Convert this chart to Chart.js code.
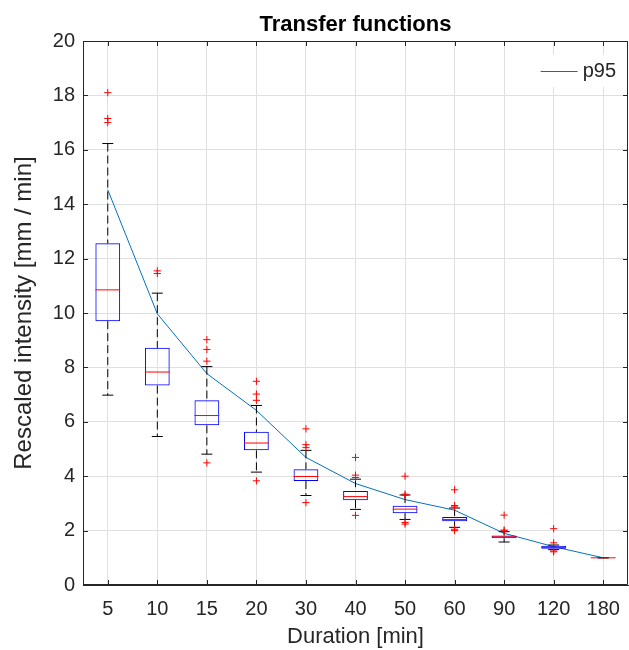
<!DOCTYPE html>
<html>
<head>
<meta charset="utf-8">
<script src="https://cdn.jsdelivr.net/npm/chart.js@4.4.1/dist/chart.umd.min.js"></script>
<style>
  html, body { margin: 0; padding: 0; background: #ffffff; }
  #wrap { width: 629px; height: 650px; position: relative; }
</style>
</head>
<body>
<div id="wrap"><canvas id="c" width="629" height="650"></canvas></div>
<script>
// ---- data ----
const categories = ['5', '10', '15', '20', '30', '40', '50', '60', '90', '120', '180'];
const lowerWhisker = [6.98, 5.46, 4.81, 4.15, 3.29, 2.78, 2.41, 2.12, 1.58, 1.30, 1.00];
const q1           = [9.70, 7.33, 5.87, 4.95, 3.82, 3.12, 2.64, 2.34, 1.72, 1.33, 1.00];
const medians      = [10.85, 7.83, 6.23, 5.22, 3.99, 3.25, 2.79, 2.41, 1.77, 1.38, 1.00];
const q3           = [12.56, 8.72, 6.79, 5.63, 4.26, 3.46, 2.91, 2.50, 1.82, 1.44, 1.00];
const upperWhisker = [16.23, 10.73, 8.03, 6.60, 4.95, 3.89, 3.31, 2.83, 1.96, 1.47, 1.00];
const outliers = [
  [18.10, 17.15, 17.00],
  [11.55, 11.45],
  [9.02, 8.66, 8.23, 4.49],
  [7.49, 7.02, 6.79, 3.83],
  [5.74, 5.16, 5.05, 3.03],
  [4.69, 4.04, 3.95, 2.56],
  [4.00, 3.34, 3.30, 2.30, 2.24],
  [3.50, 2.92, 2.87, 2.05, 2.00],
  [2.57, 2.02, 1.99],
  [2.07, 1.55, 1.25, 1.22],
  []
];
const p95 = [14.53, 9.97, 7.77, 6.42, 4.69, 3.73, 3.14, 2.75, 1.90, 1.41, 1.00];
const yTicks = [0, 2, 4, 6, 8, 10, 12, 14, 16, 18, 20];

const titleText = 'Transfer functions';
const xTitle = 'Duration [min]';
const yTitle = 'Rescaled intensity [mm / min]';
const legendLabel = 'p95';

// ---- build library structures ----
const boxData = categories.map((c, i) => [q1[i], q3[i]]);
const whiskerPts = [];
categories.forEach((c, i) => {
  whiskerPts.push({x: c, y: upperWhisker[i]}, {x: c, y: q3[i]}, {x: c, y: null});
  whiskerPts.push({x: c, y: q1[i]}, {x: c, y: lowerWhisker[i]}, {x: c, y: null});
});
const capPts = [];
categories.forEach((c, i) => {
  capPts.push({x: c, y: upperWhisker[i]}, {x: c, y: lowerWhisker[i]});
});
const medianPts = categories.map((c, i) => ({x: c, y: medians[i]}));
const outlierPts = [];
categories.forEach((c, i) => outliers[i].forEach(v => outlierPts.push({x: c, y: v})));

const FONT = "'Liberation Sans', Arial, Helvetica, sans-serif";
const TXT = '#262626';
const GRID = '#e0e0e0';
const P95C = '#0072BD';

const framePlugin = {
  id: 'frame',
  afterDatasetsDraw(chart) {
    const ctx = chart.ctx, a = chart.chartArea;
    const xs = chart.scales.x, ys = chart.scales.y;
    ctx.save();
    ctx.strokeStyle = TXT;
    ctx.lineWidth = 1;
    ctx.beginPath();
    ctx.rect(Math.round(a.left) + 0.5, Math.round(a.top) + 0.5, Math.round(a.right - a.left) - 1, Math.round(a.bottom - a.top) - 1);
    ctx.stroke();
    const tl = 5;
    ctx.beginPath();
    xs.ticks.forEach((t, i) => {
      const px = Math.round(xs.getPixelForTick(i)) + 0.5;
      ctx.moveTo(px, a.bottom); ctx.lineTo(px, a.bottom - tl);
      ctx.moveTo(px, a.top); ctx.lineTo(px, a.top + tl);
    });
    ys.ticks.forEach((t, i) => {
      const py = Math.round(ys.getPixelForTick(i)) + 0.5;
      ctx.moveTo(a.left, py); ctx.lineTo(a.left + tl, py);
      ctx.moveTo(a.right, py); ctx.lineTo(a.right - tl, py);
    });
    ctx.stroke();

    // legend (inside the axes, top-right)
    const ds = chart.data.datasets.find(d => d.label === legendLabel);
    ctx.font = '20px ' + FONT;
    const tw = ctx.measureText(ds.label).width;
    const right = a.right - 12;
    const cy = a.top + 30;
    const lineLen = 37;
    const x0 = right - tw - 5 - lineLen;
    ctx.fillStyle = '#ffffff';
    ctx.fillRect(x0 - 8, cy - 16, right - x0 + 14, 32);
    ctx.strokeStyle = ds.borderColor;
    ctx.lineWidth = 1;
    ctx.beginPath();
    ctx.moveTo(x0, Math.round(cy) + 0.5);
    ctx.lineTo(x0 + lineLen, Math.round(cy) + 0.5);
    ctx.stroke();
    ctx.fillStyle = TXT;
    ctx.textBaseline = 'middle';
    ctx.textAlign = 'left';
    ctx.fillText(ds.label, x0 + lineLen + 5, cy);
    ctx.restore();
  }
};

new Chart(document.getElementById('c'), {
  type: 'bar',
  data: {
    labels: categories,
    datasets: [
      {
        type: 'line', label: 'outliers', data: outlierPts, showLine: false,
        pointStyle: 'cross', pointRadius: 3.6, pointBorderColor: '#ff0000',
        pointBorderWidth: 1, borderColor: '#ff0000', order: 0
      },
      {
        type: 'line', label: 'median', data: medianPts, showLine: false,
        pointStyle: 'line', pointRadius: 12.4, pointBorderColor: '#ff0000',
        pointBorderWidth: 1, borderColor: '#ff0000', order: 1
      },
      {
        type: 'bar', label: 'box', data: boxData, grouped: false,
        backgroundColor: 'rgba(0,0,0,0)', borderColor: '#0000ff', borderWidth: 1,
        borderSkipped: false, barPercentage: 0.5, categoryPercentage: 1, order: 2
      },
      {
        type: 'line', label: 'caps', data: capPts, showLine: false,
        pointStyle: 'line', pointRadius: 5.5, pointBorderColor: '#000000',
        pointBorderWidth: 1, borderColor: '#000000', order: 3
      },
      {
        type: 'line', label: 'whiskers', data: whiskerPts, spanGaps: false,
        borderColor: '#000000', borderWidth: 1, borderDash: [8, 4],
        pointRadius: 0, fill: false, order: 4
      },
      {
        type: 'line', label: legendLabel, data: p95, borderColor: P95C,
        borderWidth: 1, pointRadius: 0, tension: 0, fill: false, order: 5
      }
    ]
  },
  options: {
    responsive: false,
    animation: false,
    events: [],
    layout: { autoPadding: false, padding: { left: 0, right: 1, top: 0, bottom: 0 } },
    plugins: {
      legend: { display: false },
      tooltip: { enabled: false },
      title: {
        display: true, text: titleText, color: '#000000', fullSize: false,
        font: { family: FONT, size: 22, weight: 'bold', lineHeight: 1.2 },
        padding: { top: 12, bottom: 2.6 }
      }
    },
    scales: {
      x: {
        type: 'category',
        offset: true,
        grid: { offset: false, color: GRID, drawTicks: false, tickLength: 0 },
        border: { color: TXT, width: 1 },
        ticks: { color: TXT, font: { family: FONT, size: 20 }, padding: 12, maxRotation: 0, autoSkip: false },
        title: { display: true, text: xTitle, color: TXT, font: { family: FONT, size: 22, lineHeight: 1.2 }, padding: { top: 0, bottom: 0 } },
        afterFit(s) { s.height = 65; s.paddingLeft = 0; s.paddingRight = 0; }
      },
      y: {
        type: 'linear', min: 0, max: 20,
        afterBuildTicks(s) { s.ticks = yTicks.map(v => ({value: v})); },
        grid: { color: GRID, drawTicks: false, tickLength: 0 },
        border: { color: TXT, width: 1 },
        ticks: { color: TXT, font: { family: FONT, size: 20 }, padding: 8 },
        title: { display: true, text: yTitle, color: TXT, font: { family: FONT, size: 24, lineHeight: 1.2 }, padding: { top: 10, bottom: 0 } },
        afterFit(s) { s.width = 83; s.paddingTop = 0; s.paddingBottom = 0; }
      }
    }
  },
  plugins: [framePlugin]
});
</script>
</body>
</html>
